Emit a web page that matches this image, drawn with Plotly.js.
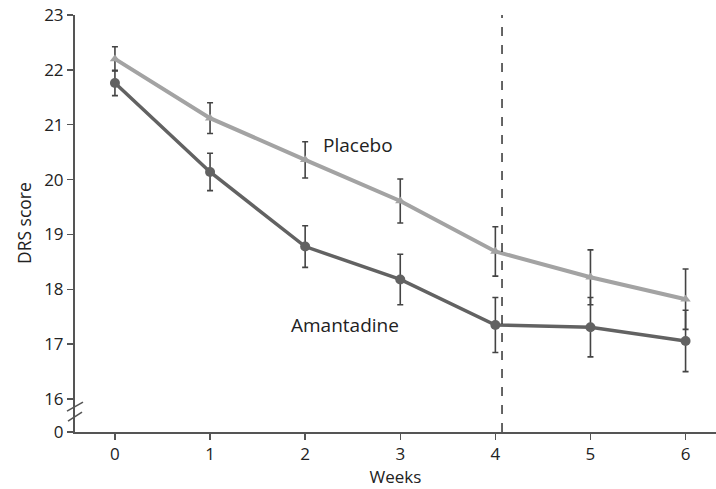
<!DOCTYPE html>
<html>
<head>
<meta charset="utf-8">
<script src="https://cdn.plot.ly/plotly-3.0.1.min.js"></script>
<style>html,body{margin:0;padding:0;background:#fff;}#chart{width:716px;height:489px;}</style>
</head>
<body>
<div id="chart"></div>
<script>
const weeks = [0, 1, 2, 3, 4, 5, 6];
const placeboMean = [22.20, 21.12, 20.36, 19.61, 18.69, 18.22, 17.82];
const placeboErr  = [0.22, 0.28, 0.33, 0.40, 0.45, 0.50, 0.55];
const amantadineMean = [21.76, 20.14, 18.78, 18.18, 17.35, 17.31, 17.06];
const amantadineErr  = [0.23, 0.34, 0.38, 0.46, 0.50, 0.54, 0.56];
const yTickVals = [15.4, 16, 17, 18, 19, 20, 21, 22, 23];
const yTickText = ['0', '16', '17', '18', '19', '20', '21', '22', '23'];
const xTickVals = [0, 1, 2, 3, 4, 5, 6];
const switchWeek = 4.07;

const font = "'Open Sans', 'Liberation Sans', sans-serif";

const traces = [
  {
    x: weeks, y: placeboMean, type: 'scatter', mode: 'lines+markers', name: 'Placebo',
    line: {color: '#a3a3a3', width: 4},
    marker: {symbol: 'triangle-up', size: 9, color: '#a3a3a3'},
    error_y: {type: 'data', array: placeboErr, visible: true, color: '#444', thickness: 1.6, width: 3}
  },
  {
    x: weeks, y: amantadineMean, type: 'scatter', mode: 'lines+markers', name: 'Amantadine',
    line: {color: '#626262', width: 3.5},
    marker: {symbol: 'circle', size: 10, color: '#626262'},
    error_y: {type: 'data', array: amantadineErr, visible: true, color: '#444', thickness: 1.6, width: 3}
  }
];

const layout = {
  width: 716, height: 489,
  margin: {l: 75, r: 0, t: 15, b: 57},
  paper_bgcolor: '#fff', plot_bgcolor: '#fff',
  showlegend: false,
  font: {family: font, size: 17, color: '#222'},
  xaxis: {
    range: [-0.42, 6.32], tickvals: xTickVals, ticks: 'outside', ticklen: 6, tickwidth: 1.5, tickcolor: '#555',
    showgrid: false, zeroline: false, showline: true, linecolor: '#555', linewidth: 2,
    title: {text: 'Weeks', font: {size: 17}, standoff: 4},
    tickfont: {size: 17}
  },
  yaxis: {
    range: [15.4, 23], tickvals: yTickVals, ticktext: yTickText, ticks: 'outside', ticklen: 6, tickwidth: 1.5, tickcolor: '#555',
    showgrid: false, zeroline: false, showline: true, linecolor: '#555', linewidth: 2,
    tickfont: {size: 17}
  },
  shapes: [
    {type: 'line', xref: 'x', yref: 'paper', x0: switchWeek, x1: switchWeek, y0: 0, y1: 1,
     line: {color: '#333', width: 1.5, dash: 'dash'}},
    {type: 'line', xref: 'paper', yref: 'y', xsizemode: 'pixel', ysizemode: 'pixel', xanchor: 0, yanchor: 15.78,
     x0: -8, x1: 8, y0: 0, y1: 9, line: {color: '#555', width: 1.6}},
    {type: 'line', xref: 'paper', yref: 'y', xsizemode: 'pixel', ysizemode: 'pixel', xanchor: 0, yanchor: 15.78,
     x0: -7, x1: 7, y0: -10, y1: -1, line: {color: '#555', width: 1.6}}
  ],
  annotations: [
    {x: -0.0803, y: 0.5, xref: 'paper', yref: 'paper', text: 'DRS score', textangle: -90, showarrow: false,
     xanchor: 'center', yanchor: 'middle', font: {size: 17.5, color: '#222'}},
    {x: 2.555, y: 20.63, xref: 'x', yref: 'y', text: 'Placebo', showarrow: false, font: {size: 19, color: '#222'}},
    {x: 2.42, y: 17.35, xref: 'x', yref: 'y', text: 'Amantadine', showarrow: false, font: {size: 19, color: '#222'}}
  ]
};

Plotly.newPlot('chart', traces, layout, {displayModeBar: false, staticPlot: true});
</script>
</body>
</html>
